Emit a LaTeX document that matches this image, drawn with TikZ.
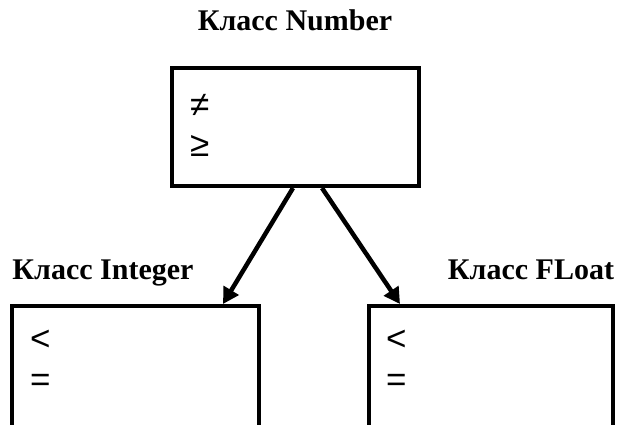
\documentclass[tikz,border=0pt]{standalone}
\usepackage{fontspec}
\setmainfont{Liberation Serif}
\newfontfamily\symfont{Liberation Sans}
\usetikzlibrary{positioning,arrows.meta}
\tikzset{
classbox/.style={draw, line width=4pt, rectangle, minimum width=247pt, inner sep=0pt},
classname/.style={font=\fontsize{30}{34}\selectfont\bfseries, inner sep=0pt, anchor=base},
oper/.style={font=\symfont\fontsize{35}{40}\selectfont, anchor=west, inner sep=0pt},
inherit/.style={line width=4.5pt, -{Triangle[length=16pt,width=17pt]}}
}

\begin{document}
\begin{tikzpicture}[x=1pt,y=-1pt]
\useasboundingbox (0,0) rectangle (618,424);
\clip (0,0) rectangle (618,424);
% base class
\node[classname] (numname) at (295,30) {Класс Number};
\node[classbox, minimum height=118pt] (number) at (295.5,127) {};
\node[oper] (numne) at (190,105) {≠};
\node[oper] (numge) at (190,146) {≥};
% derived classes
\node[classname] (intname) at (103,279) {Класс Integer};
\node[classbox, minimum height=134pt] (integer) at (135.5,373) {};
\node[oper] (intlt) at (30,340) {<};
\node[oper] (inteq) at (30,383) {=};

\node[classname] (fltname) at (531,279) {Класс FLoat};
\node[classbox, minimum width=244pt, minimum height=134pt] (float) at (491,373) {};
\node[oper] (fltlt) at (386,340) {<};
\node[oper] (flteq) at (386,383) {=};
% inheritance arrows
\draw[inherit] ([xshift=-2.5]number.south) -- ([xshift=87.5]integer.north);
\draw[inherit] ([xshift=26.5]number.south) -- ([xshift=-91]float.north);
\end{tikzpicture}
\end{document}
